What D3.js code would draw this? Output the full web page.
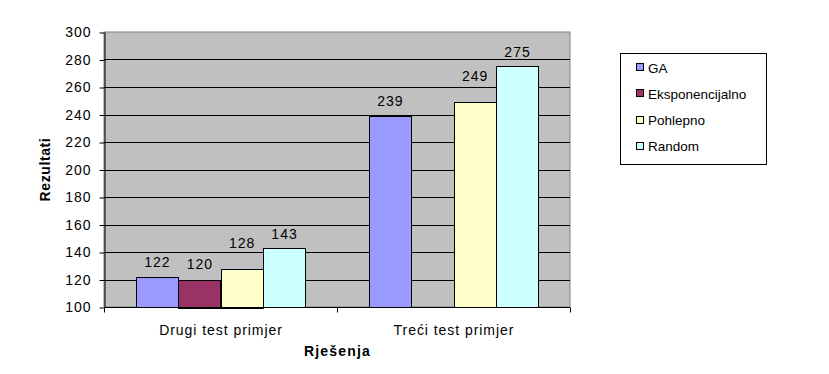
<!DOCTYPE html>
<html>
<head>
<meta charset="utf-8">
<script src="https://cdn.jsdelivr.net/npm/d3@7"></script>
<style>
  body { margin: 0; background: #fff; }
  text { font-family: "Liberation Sans", Arial, sans-serif; }
</style>
</head>
<body>
<div id="chart"></div>
<script>
const categories = ["Drugi test primjer", "Treći test primjer"];
const seriesNames = ["GA", "Eksponencijalno", "Pohlepno", "Random"];
// values per series, one per category (null = no bar)
const gaValues = [122, 239];
const eksValues = [120, null];
const pohValues = [128, 249];
const ranValues = [143, 275];
const yTicks = [100, 120, 140, 160, 180, 200, 220, 240, 260, 280, 300];

const seriesValues = [gaValues, eksValues, pohValues, ranValues];
const colors = ["#9999FF", "#993366", "#FFFFCC", "#CCFFFF"];
// Excel nudged the Pohlepno labels a bit higher
const labelLift = [10, 11, 21, 9];

let margin = { left: 104, top: 32, right: 259, bottom: 67 };
let width = 829 - margin.left - margin.right;
let height = 374 - margin.top - margin.bottom;

let svg = d3.select("#chart")
  .append("svg")
  .attr("width", 829)
  .attr("height", 374)
  .append("g")
  .attr("transform", `translate(${margin.left},${margin.top})`);

let x = d3.scaleBand().domain(categories).range([0, width]);
// gap width 150%: 4 bars + 1.5 bar widths of gap in each category
let x1 = d3.scaleBand().domain(seriesNames)
  .range([x.bandwidth() * 0.75 / 5.5, x.bandwidth() * 4.75 / 5.5]);

let y = d3.scaleLinear().domain([100, 300]).range([height, 0]);

// plot background
svg.append("rect")
  .attr("width", width).attr("height", height)
  .attr("fill", "#C0C0C0")
  .attr("stroke", "#808080");

// gridlines
svg.append("g")
  .selectAll("line")
  .data(yTicks.slice(1, -1))
  .join("line")
  .attr("x1", 0).attr("x2", width)
  .attr("y1", d => Math.round(y(d)) + 0.5)
  .attr("y2", d => Math.round(y(d)) + 0.5)
  .attr("stroke", "#000");

// bars
seriesNames.forEach((name, i) => {
  categories.forEach((cat, j) => {
    let v = seriesValues[i][j];
    if (v == null) return;
    let bx = x(cat) + x1(name);
    svg.append("rect")
      .attr("x", Math.round(bx) + 0.5)
      .attr("y", Math.round(y(v)) + 0.5)
      .attr("width", Math.round(x1.bandwidth()))
      .attr("height", Math.round(height - y(v)))
      .attr("fill", colors[i])
      .attr("stroke", "#000");
    svg.append("text")
      .attr("x", bx + x1.bandwidth() / 2 + 0.5)
      .attr("y", y(v) - labelLift[i])
      .attr("text-anchor", "middle")
      .attr("font-size", "14px")
      .attr("letter-spacing", "1px")
      .attr("fill", "#000")
      .text(v);
  });
});

// y axis
let yAxis = svg.append("g")
  .attr("transform", "translate(0.5,0)")
  .call(d3.axisLeft(y).tickValues(yTicks).tickSize(5).tickPadding(8).tickSizeOuter(0));
yAxis.select(".domain").attr("stroke", "#000");
yAxis.selectAll(".tick line").attr("transform", "translate(0,0.5)");
yAxis.selectAll("text")
  .attr("font-size", "14px")
  .attr("letter-spacing", "1px")
  .attr("font-family", "Liberation Sans, Arial, sans-serif")
  .attr("dy", "0.35em");

// x axis
let xAxis = svg.append("g")
  .attr("transform", `translate(0,${height + 0.5})`);
xAxis.append("line").attr("x1", 0).attr("x2", width).attr("stroke", "#000");
xAxis.selectAll(".sep")
  .data([0, ...categories.map(c => x(c) + x.bandwidth())])
  .join("line")
  .attr("class", "sep")
  .attr("x1", d => Math.round(d) + 0.5).attr("x2", d => Math.round(d) + 0.5)
  .attr("y1", 0).attr("y2", 5)
  .attr("stroke", "#000");
xAxis.selectAll(".cat")
  .data(categories)
  .join("text")
  .attr("class", "cat")
  .attr("x", d => x(d) + x.bandwidth() / 2 + 0.5)
  .attr("y", 27)
  .attr("text-anchor", "middle")
  .attr("font-size", "14px")
  .attr("letter-spacing", "0.95px")
  .text(d => d);

// axis titles
svg.append("text")
  .attr("transform", `translate(${width / 2 + 0.5}, ${height + 49})`)
  .attr("text-anchor", "middle")
  .attr("font-size", "14px")
  .attr("font-weight", "bold")
  .attr("letter-spacing", "1.2px")
  .text("Rješenja");

svg.append("text")
  .attr("transform", `translate(${-54}, ${height / 2})rotate(-90)`)
  .attr("text-anchor", "middle")
  .attr("font-size", "14px")
  .attr("font-weight", "bold")
  .attr("letter-spacing", "0.6px")
  .text("Rezultati");

// legend
let legend = d3.select("svg").append("g").attr("transform", "translate(620.5,53.5)");
legend.append("rect")
  .attr("width", 146).attr("height", 111)
  .attr("fill", "#fff").attr("stroke", "#000");
seriesNames.forEach((name, i) => {
  let ly = 14 + i * 26.3;
  legend.append("rect")
    .attr("x", 16).attr("y", Math.round(ly - 4))
    .attr("width", 7).attr("height", 7)
    .attr("fill", colors[i]).attr("stroke", "#000");
  legend.append("text")
    .attr("x", 27.5).attr("y", ly + 5)
    .attr("font-size", "13.5px")
    .text(name);
});
</script>
</body>
</html>
